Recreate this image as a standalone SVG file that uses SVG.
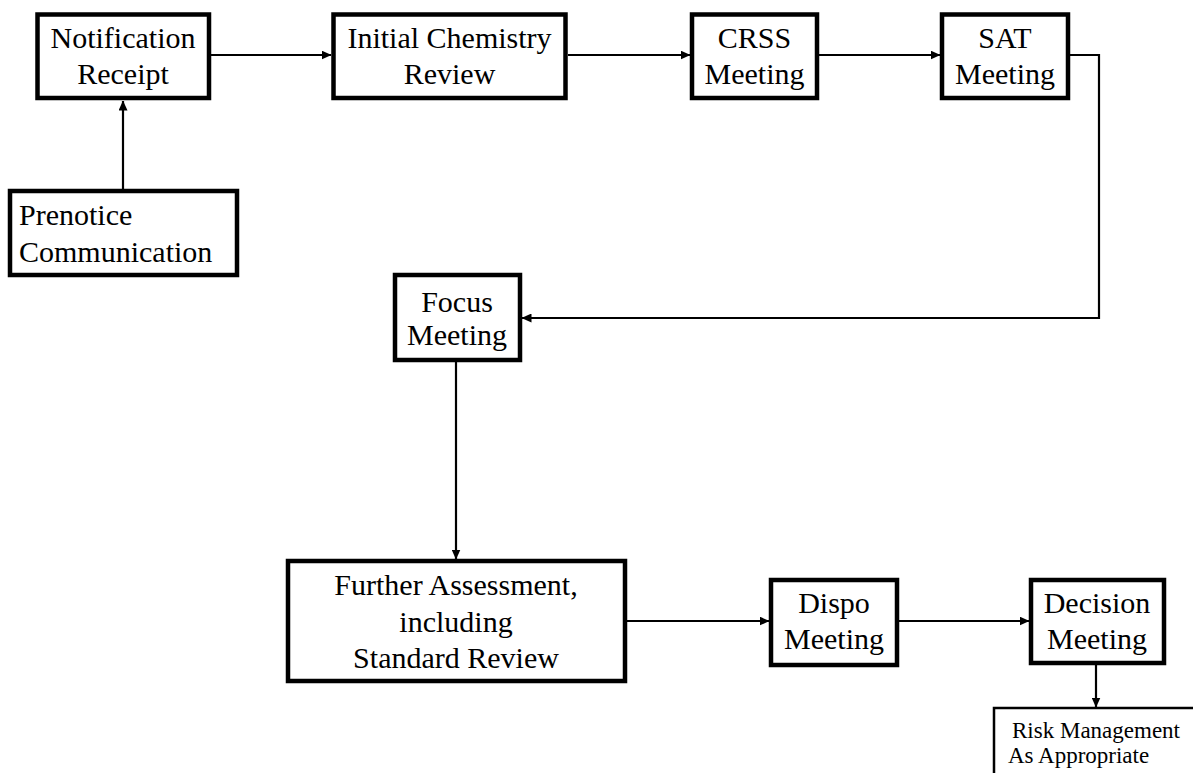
<svg xmlns="http://www.w3.org/2000/svg" width="1193" height="773" viewBox="0 0 1193 773">
<style>
.box{fill:#fff;stroke:#000;stroke-width:4.5}
.thin{fill:#fff;stroke:#000;stroke-width:2.5}
.t{font-family:"Liberation Serif","Times New Roman",serif;font-size:30px;fill:#000;text-anchor:middle}
.tl{font-family:"Liberation Serif","Times New Roman",serif;font-size:30px;fill:#000}
.ts{font-family:"Liberation Serif","Times New Roman",serif;font-size:23px;fill:#000}
.c{fill:none;stroke:#000;stroke-width:2.2}
</style>
<defs>
<marker id="ah" markerWidth="10" markerHeight="9" refX="9.5" refY="4.5" orient="auto" markerUnits="userSpaceOnUse">
<path d="M0,0 L10,4.5 L0,9 Z" fill="#000"/>
</marker>
</defs>
<rect width="1193" height="773" fill="#fff"/>
<g id="connectors">
<path class="c" d="M123,189 L123,101" marker-end="url(#ah)"/>
<path class="c" d="M211,55 L331,55" marker-end="url(#ah)"/>
<path class="c" d="M568,55 L690,55" marker-end="url(#ah)"/>
<path class="c" d="M819,55 L940,55" marker-end="url(#ah)"/>
<path class="c" d="M1070,55 L1099,55 L1099,318 L522,318" marker-end="url(#ah)"/>
<path class="c" d="M456,362 L456,559" marker-end="url(#ah)"/>
<path class="c" d="M627,621 L769,621" marker-end="url(#ah)"/>
<path class="c" d="M899,621 L1029,621" marker-end="url(#ah)"/>
<path class="c" d="M1096,665 L1096,707" marker-end="url(#ah)"/>
</g>
<g id="notification-receipt">
<rect class="box" x="37.5" y="14.5" width="171.5" height="83.5"/>
<text class="t" x="123" y="48">Notification</text>
<text class="t" x="123" y="84">Receipt</text>
</g>
<g id="initial-chemistry-review">
<rect class="box" x="333.5" y="14.5" width="232" height="83.5"/>
<text class="t" x="449.5" y="48">Initial Chemistry</text>
<text class="t" x="449.5" y="84">Review</text>
</g>
<g id="crss-meeting">
<rect class="box" x="692" y="14.5" width="125" height="83.5"/>
<text class="t" x="754.5" y="48">CRSS</text>
<text class="t" x="754.5" y="84">Meeting</text>
</g>
<g id="sat-meeting">
<rect class="box" x="942" y="14.5" width="126" height="83.5"/>
<text class="t" x="1005" y="48">SAT</text>
<text class="t" x="1005" y="84">Meeting</text>
</g>
<g id="prenotice-communication">
<rect class="box" x="10" y="191" width="227" height="84"/>
<text class="tl" x="19" y="225">Prenotice</text>
<text class="tl" x="19" y="262">Communication</text>
</g>
<g id="focus-meeting">
<rect class="box" x="395" y="275" width="125" height="85"/>
<text class="t" x="457" y="312">Focus</text>
<text class="t" x="457" y="345">Meeting</text>
</g>
<g id="further-assessment">
<rect class="box" x="288" y="561" width="337" height="120"/>
<text class="t" x="456" y="595">Further Assessment,</text>
<text class="t" x="456" y="632">including</text>
<text class="t" x="456" y="668">Standard Review</text>
</g>
<g id="dispo-meeting">
<rect class="box" x="771" y="580" width="126" height="85"/>
<text class="t" x="834" y="613">Dispo</text>
<text class="t" x="834" y="649">Meeting</text>
</g>
<g id="decision-meeting">
<rect class="box" x="1031" y="580" width="133" height="83"/>
<text class="t" x="1097" y="613">Decision</text>
<text class="t" x="1097" y="649">Meeting</text>
</g>
<g id="risk-management">
<rect class="thin" x="994" y="708" width="220" height="100"/>
<text class="ts" x="1012" y="738">Risk Management</text>
<text class="ts" x="1008" y="763">As Appropriate</text>
</g>
</svg>
